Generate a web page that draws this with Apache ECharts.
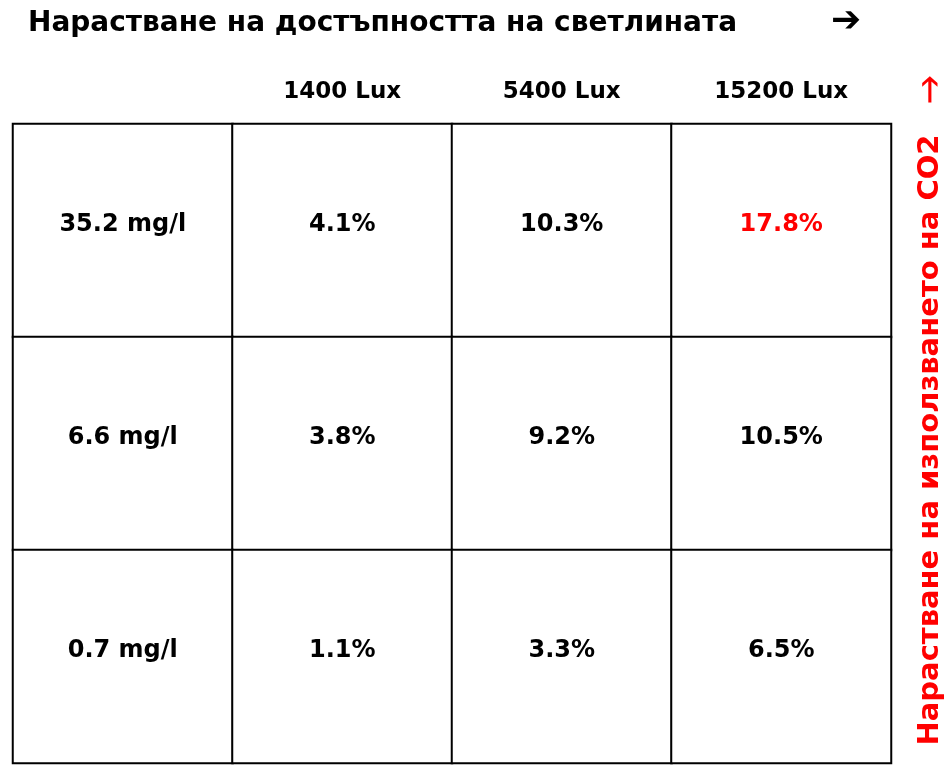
<!DOCTYPE html>
<html><head><meta charset="utf-8">
<script src="https://cdn.jsdelivr.net/npm/echarts@6/dist/echarts.min.js"></script>
<style>html,body{margin:0;padding:0;background:#fff}#c{width:951px;height:778px}</style>
</head><body><div id="c"></div>
<script>
const columns = ['', '1400 Lux', '5400 Lux', '15200 Lux'];
const rowLabels = ['35.2 mg/l', '6.6 mg/l', '0.7 mg/l'];
const values = [
  [4.1, 10.3, 17.8],
  [3.8, 9.2, 10.5],
  [1.1, 3.3, 6.5]
];
const title = 'Нарастване на достъпността на светлината';
const sideTitle = 'Нарастване на използването на CO2';

const data = [];
rowLabels.forEach((r, i) => {
  data.push({value: [0, i, 0], text: r});
  values[i].forEach((v, j) => {
    const d = {value: [j + 1, i, v], text: v.toFixed(1) + '%'};
    if (i === 0 && j === 2) d.label = {color: '#ff0000'};
    data.push(d);
  });
});
const font = 'DejaVu Sans';
const chart = echarts.init(document.getElementById('c'));
chart.setOption({
  animation: false,
  grid: {left: 13, right: 60, top: 124, bottom: 15},
  xAxis: {type: 'category', data: columns, position: 'top',
    axisLine: {show: false}, axisTick: {show: false}, splitLine: {show: false},
    axisLabel: {fontFamily: font, fontWeight: 'bold', fontSize: 23, color: '#000', margin: 20}},
  yAxis: {type: 'category', data: rowLabels.map((_, i) => i), inverse: true, show: false},
  series: [{
    type: 'heatmap', data: data,
    itemStyle: {color: '#fff', borderColor: '#000', borderWidth: 2},
    label: {show: true, formatter: p => p.data.text, fontFamily: font, fontWeight: 'bold', fontSize: 24, color: '#000', offset: [0, -6]},
    emphasis: {disabled: true}
  }],
  graphic: [
    {type: 'text', left: 28, top: 10, style: {text: title, font: 'bold 28px DejaVu Sans', fill: '#000'}},
    {type: 'text', x: 846, y: 22, style: {text: '➔', font: 'bold 36px DejaVu Sans', fill: '#000', align: 'center', verticalAlign: 'middle'}},
    {type: 'text', x: 930, y: 92, style: {text: '🡑', font: 'bold 34px DejaVu Sans', fill: '#ff0000', align: 'center', verticalAlign: 'middle'}},
    {type: 'text', x: 930, y: 440, rotation: Math.PI / 2, style: {text: sideTitle, font: 'bold 29px DejaVu Sans', fill: '#ff0000', align: 'center', verticalAlign: 'middle'}}
  ]
});
</script></body></html>
